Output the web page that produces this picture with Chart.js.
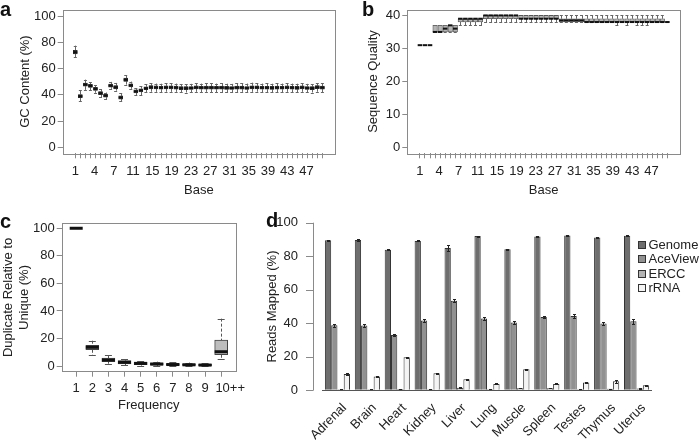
<!DOCTYPE html>
<html lang="en">
<head>
<meta charset="UTF-8">
<title>Library QC summary</title>
<script src="https://cdn.jsdelivr.net/npm/chart.js"></script>
<style>
  body { margin: 0; background: #fff; }
  .fig { position: relative; width: 700px; height: 440px; overflow: hidden; }
  canvas { position: absolute; }
  #chartA { left: 0; top: 0; }
  #chartB { left: 350px; top: 0; }
  #chartC { left: 0; top: 210px; }
  #chartD { left: 250px; top: 210px; }
  .tag { position: absolute; font: bold 20px 'Liberation Sans', Arial, sans-serif; line-height: 20px; color: #111; }
</style>
</head>
<body>
<div class="fig">
  <canvas id="chartA" width="345" height="210"></canvas>
  <canvas id="chartB" width="350" height="210"></canvas>
  <canvas id="chartC" width="250" height="230"></canvas>
  <canvas id="chartD" width="450" height="230"></canvas>
  <div class="tag" style="left:0;top:-1px">a</div>
  <div class="tag" style="left:362px;top:-1px">b</div>
  <div class="tag" style="left:0;top:211px">c</div>
  <div class="tag" style="left:266px;top:210px">d</div>
</div>
<script>
// ---- data ----
const bases = [1,2,3,4,5,6,7,8,9,10,11,12,13,14,15,16,17,18,19,20,21,22,23,24,25,
               26,27,28,29,30,31,32,33,34,35,36,37,38,39,40,41,42,43,44,45,46,47,48,49,50];
const baseTickLabels = ['1','4','7','11','15','19','23','27','31','35','39','43','47'];

// a: GC content per base
const gcMin = [68.6,35.0,43.8,43.6,41.6,38.4,36.9,44.6,43.2,35.2,47.8,44.6,39.9,39.8,41.9,42.4,42.3,42.2,42.4,42.3,42.3,41.9,41.8,42.0,42.3,
               42.1,42.3,42.2,42.1,42.2,42.0,41.9,42.2,42.3,41.9,42.3,42.4,42.1,42.2,42.0,42.2,42.1,42.3,42.1,42.0,42.3,41.9,41.8,42.4,42.2];
const gcQ1  = [71.2,37.8,46.6,45.6,43.3,40.1,38.2,45.8,44.6,36.8,50.3,46.1,41.4,42.2,43.9,44.6,44.5,44.3,44.6,44.5,44.4,44.0,44.0,44.1,44.5,
               44.3,44.4,44.4,44.3,44.4,44.2,44.1,44.4,44.4,44.1,44.6,44.6,44.3,44.3,44.2,44.4,44.3,44.5,44.3,44.2,44.5,44.1,44.0,44.7,44.4];
const gcMed = [72.5,39.0,47.8,46.8,44.5,41.3,39.4,47.0,45.8,38.0,51.5,47.3,42.6,43.4,45.0,45.8,45.6,45.4,45.7,45.7,45.5,45.1,45.1,45.2,45.6,
               45.4,45.5,45.5,45.4,45.5,45.3,45.2,45.5,45.5,45.2,45.7,45.7,45.4,45.4,45.3,45.5,45.4,45.6,45.4,45.3,45.6,45.2,45.1,45.8,45.5];
const gcQ3  = [73.9,40.3,49.0,48.0,45.7,42.5,40.6,48.2,47.0,39.2,52.7,48.5,43.8,44.7,46.2,47.0,46.8,46.6,46.9,46.9,46.7,46.3,46.3,46.4,46.8,
               46.6,46.7,46.7,46.6,46.7,46.5,46.4,46.7,46.7,46.4,46.9,46.9,46.6,46.6,46.5,46.7,46.6,46.8,46.6,46.5,46.8,46.4,46.3,47.0,46.7];
const gcMax = [77.5,43.5,51.6,49.6,47.2,44.3,41.8,49.9,49.1,41.3,55.0,50.1,45.2,46.7,48.2,48.8,48.6,48.5,48.9,48.8,48.6,48.3,48.2,48.4,48.9,
               48.6,48.7,48.8,48.6,48.7,48.5,48.4,48.7,48.8,48.6,49.3,48.9,48.6,48.7,48.5,48.7,48.6,48.9,48.6,48.5,48.8,48.4,48.3,49.0,48.7];
const gcTicks = [0, 20, 40, 60, 80, 100];

// b: sequence quality per base
const qMin = [31,31,31,35,35,35,35,35,37,37,37,37,37,38,38,38,38,38,38,38,38,38,38,38,38,
              38,38,38,38,38,38,38,38,38,38,38,38,38,38,37,38,37,38,37,37,37,38,38,38,38];
const qQ1  = [31,31,31,35,35,35,35,35,38,38,38,38,38,39,39,39,39,39,39,39,39,39,39,39,39,
              39,39,39,38,38,38,38,38,38,38,38,38,38,38,38,38,38,38,38,38,38,38,38,38,38];
const qMed = [31,31,31,35,35,36,37,36,39,39,39,39,39,40,40,40,40,40,40,40,39,39,39,39,39,
              39,39,39,38.5,38.5,38.5,38.5,38.5,38,38,38,38,38,38,38,38,38,38,38,38,38,38,38,38,38];
const qQ3  = [31,31,31,37,37,37,37,37,39,39,39,39,39,40,40,40,40,40,40,40,40,40,40,40,40,
              40,40,40,39,39,39,39,39,39,39,39,39,39,39,39,39,39,39,39,39,39,39,39,39,38];
const qMax = [31,31,31,37,37,37,37,37,39,39,39,39,39,40,40,40,40,40,40,40,40,40,40,40,40,
              40,40,40,40,40,40,40,40,40,40,40,40,40,40,40,40,40,40,40,40,40,40,40,40,38];
const qTicks = [0, 10, 20, 30, 40];

// c: duplicate frequency
const freqLabels = ['1','2','3','4','5','6','7','8','9','10++'];
const dupMin = [100, 8.0, 1.7, 0.5, 0.3, 0.2, 0.1, 0.1, 0.1, 4.9];
const dupQ1  = [100, 11.8, 3.1, 1.5, 1.0, 0.8, 0.5, 0.4, 0.3, 8.2];
const dupMed = [100, 13.6, 4.4, 2.7, 1.9, 1.4, 1.1, 0.9, 0.7, 10.4];
const dupQ3  = [100, 15.0, 5.8, 3.9, 2.8, 2.3, 1.8, 1.6, 1.4, 18.9];
const dupMax = [100, 18.4, 7.8, 5.0, 3.5, 3.2, 2.8, 2.5, 2.2, 34.4];
const dupTicks = [0, 20, 40, 60, 80, 100];

// d: reads mapped per tissue
const tissues = ['Adrenal','Brain','Heart','Kidney','Liver','Lung','Muscle','Spleen','Testes','Thymus','Uterus'];
const genome  = [89.5, 89.7, 83.9, 89.1, 84.9, 92.0, 84.1, 91.7, 92.4, 91.1, 92.2];
const aceView = [38.8, 38.6, 33.0, 41.6, 53.5, 42.9, 40.4, 43.7, 44.3, 39.8, 41.2];
const ercc    = [0.6, 0.7, 0.8, 0.6, 1.5, 0.7, 1.2, 1.2, 0.6, 0.9, 1.0];
const rrna    = [9.7, 8.3, 19.7, 10.1, 6.6, 3.8, 12.5, 3.8, 4.6, 5.4, 3.0];
const genomeErr  = [0.3, 0.4, 0.3, 0.3, 1.5, 0.3, 0.3, 0.3, 0.3, 0.4, 0.3];
const aceViewErr = [0.8, 0.8, 0.6, 1.0, 0.9, 0.7, 0.7, 0.8, 1.4, 0.7, 1.6];
const erccErr    = [0.1, 0.1, 0.1, 0.1, 0.2, 0.1, 0.1, 0.1, 0.1, 0.1, 0.1];
const rrnaErr    = [0.4, 0.3, 0.4, 0.4, 0.3, 0.3, 0.4, 0.3, 0.5, 0.8, 0.3];

// ---- shared styling ----
const FONT = "'Liberation Sans', Arial, Helvetica, sans-serif";
Chart.defaults.font.family = FONT;
Chart.defaults.font.size = 13;
Chart.defaults.color = '#222';
const AXIS = '#8a8a8a';

// whiskers, caps, medians and the frame around a box plot
function boxPlugin(st, style) {
  return {
    id: 'box_' + style.name,
    beforeDatasetsDraw(chart) {
      const {ctx} = chart, y = chart.scales.y;
      const bars = chart.getDatasetMeta(0).data;
      ctx.save();
      ctx.strokeStyle = style.whisker;
      ctx.lineWidth = 1;
      ctx.setLineDash(style.dash || []);
      bars.forEach((bar, i) => {
        const x = Math.round(bar.x) + 0.5;
        ctx.beginPath();
        ctx.moveTo(x, y.getPixelForValue(st.max[i]));
        ctx.lineTo(x, y.getPixelForValue(st.q3[i]));
        ctx.moveTo(x, y.getPixelForValue(st.q1[i]));
        ctx.lineTo(x, y.getPixelForValue(st.min[i]));
        ctx.stroke();
      });
      ctx.setLineDash([]);
      bars.forEach((bar, i) => {
        [st.min[i], st.max[i]].forEach(v => {
          const py = Math.round(y.getPixelForValue(v)) + 0.5;
          ctx.beginPath();
          ctx.moveTo(bar.x - style.cap / 2, py);
          ctx.lineTo(bar.x + style.cap / 2, py);
          ctx.stroke();
        });
      });
      ctx.restore();
    },
    afterDatasetsDraw(chart) {
      const {ctx} = chart, y = chart.scales.y;
      ctx.save();
      ctx.strokeStyle = '#111';
      ctx.lineWidth = style.medWidth;
      chart.getDatasetMeta(0).data.forEach((bar, i) => {
        const py = y.getPixelForValue(st.med[i]);
        ctx.beginPath();
        ctx.moveTo(bar.x - bar.width / 2, py);
        ctx.lineTo(bar.x + bar.width / 2, py);
        ctx.stroke();
      });
      ctx.restore();
    },
    afterDraw(chart) {
      const {ctx, chartArea: a} = chart;
      ctx.save();
      ctx.strokeStyle = AXIS;
      ctx.lineWidth = 1;
      ctx.strokeRect(Math.round(a.left) + 0.5, Math.round(a.top) + 0.5,
                     Math.round(a.right - a.left), Math.round(a.bottom - a.top));
      ctx.restore();
    }
  };
}

function fixedTicks(list) {
  return scale => { scale.ticks = list.map(v => ({value: v})); };
}

function baseChart(id, st, yTicks, yMin, yMax, yTitle, titlePad, yWidth, rightPad, boxStyle) {
  return new Chart(document.getElementById(id), {
    type: 'bar',
    data: {
      datasets: [{
        data: bases.map((b, i) => ({x: b, y: [st.q1[i], st.q3[i]]})),
        backgroundColor: boxStyle.fill,
        borderColor: boxStyle.border,
        borderWidth: boxStyle.borderWidth,
        borderSkipped: false,
        barThickness: boxStyle.width
      }]
    },
    options: {
      responsive: false,
      animation: false,
      layout: {padding: {left: 0, top: 4, right: rightPad, bottom: 0}},
      plugins: {legend: {display: false}, tooltip: {enabled: false}},
      scales: {
        x: {
          type: 'linear', min: -1.5, max: 52.5, offset: false,
          afterBuildTicks: fixedTicks(bases),
          ticks: {display: false},
          grid: {drawOnChartArea: false, offset: false, tickLength: 5, color: AXIS},
          border: {display: false},
          afterFit: s => { s.height = 6; }
        },
        x2: {
          type: 'linear', position: 'bottom', min: -1.5, max: 52.5, offset: false,
          afterBuildTicks: s => { s.ticks = baseTickLabels.map((t, i) => ({value: 1 + i * 3.82})); },
          ticks: {callback: (v, i) => baseTickLabels[i], autoSkip: false, maxRotation: 0, padding: 4},
          grid: {display: false, offset: false, drawTicks: false},
          border: {display: false},
          title: {display: true, text: 'Base', padding: {top: 0, bottom: 12}},
          afterFit: s => { s.height = 50.7; }
        },
        y: {
          min: yMin, max: yMax,
          afterBuildTicks: fixedTicks(yTicks),
          ticks: {padding: 2},
          grid: {drawOnChartArea: false, tickLength: 5, color: AXIS},
          border: {display: false},
          title: {display: true, text: yTitle, padding: {top: titlePad, bottom: 0}},
          afterFit: s => { s.width = yWidth; }
        }
      }
    },
    plugins: [boxPlugin(st, boxStyle)]
  });
}

// panel a
baseChart('chartA', {min: gcMin, q1: gcQ1, med: gcMed, q3: gcQ3, max: gcMax},
  gcTicks, -4.5, 104.8, 'GC Content (%)', 18, 62.7, 10,
  {name: 'a', fill: '#3c3c3c', border: '#222', borderWidth: 0.5, width: 4, whisker: '#666', cap: 3, medWidth: 2});

// panel b
baseChart('chartB', {min: qMin, q1: qQ1, med: qMed, q3: qQ3, max: qMax},
  qTicks, -1.7, 41.7, 'Sequence Quality', 15.5, 57.3, 20,
  {name: 'b', fill: '#b5b5b5', border: '#555', borderWidth: 0.8, width: 4.5, whisker: '#666', cap: 3, medWidth: 2});

// panel c
const dupStats = {min: dupMin, q1: dupQ1, med: dupMed, q3: dupQ3, max: dupMax};
new Chart(document.getElementById('chartC'), {
  type: 'bar',
  data: {
    datasets: [{
      data: freqLabels.map((f, i) => ({x: i + 1, y: [dupQ1[i], dupQ3[i]]})),
      backgroundColor: '#bdbdbd',
      borderColor: '#444',
      borderWidth: 1,
      borderSkipped: false,
      barThickness: 13
    }]
  },
  options: {
    responsive: false,
    animation: false,
    layout: {padding: {left: 0, top: 13.3, right: 11.7, bottom: 0}},
    plugins: {legend: {display: false}, tooltip: {enabled: false}},
    scales: {
      x: {
        type: 'linear', min: 0.1, max: 10.9, offset: false,
        afterBuildTicks: s => { s.ticks = freqLabels.map((f, i) => ({value: i + 1})); },
        // the last label sits a little right of its tick, as in the source figure
        ticks: {callback: (v, i) => (i === freqLabels.length - 1 ? '     ' : '') + freqLabels[i],
                autoSkip: false, maxRotation: 0, padding: 4},
        grid: {drawOnChartArea: false, offset: false, tickLength: 5, color: AXIS},
        border: {display: false},
        title: {display: true, text: 'Frequency', padding: {top: 0, bottom: 27}},
        afterFit: s => { s.height = 68.3; }
      },
      y: {
        min: -4.1, max: 103.6,
        afterBuildTicks: fixedTicks(dupTicks),
        ticks: {padding: 2},
        grid: {drawOnChartArea: false, tickLength: 5, color: AXIS},
        border: {display: false},
        title: {display: true, text: ['Duplicate Relative to', 'Unique (%)'],
                font: {lineHeight: 1.25}, padding: {top: 0, bottom: 0}},
        afterFit: s => { s.width = 61.7; }
      }
    }
  },
  plugins: [boxPlugin(dupStats, {name: 'c', whisker: '#555', dash: [3, 2], cap: 7, medWidth: 3})]
});

// panel d
const mappedErrors = [genomeErr, aceViewErr, erccErr, rrnaErr];
const dExtras = {
  id: 'dExtras',
  afterDatasetsDraw(chart) {
    const {ctx, scales: {y}} = chart;
    ctx.save();
    ctx.strokeStyle = '#222';
    ctx.lineWidth = 1;
    chart.data.datasets.forEach((ds, di) => {
      chart.getDatasetMeta(di).data.forEach((bar, j) => {
        const v = ds.data[j], e = mappedErrors[di][j];
        const x = Math.round(bar.x) + 0.5;
        const top = Math.round(y.getPixelForValue(v + e)) + 0.5;
        const bot = Math.round(y.getPixelForValue(v - e)) + 0.5;
        ctx.beginPath();
        ctx.moveTo(x, top); ctx.lineTo(x, bot);
        ctx.moveTo(x - 1.5, top); ctx.lineTo(x + 1.5, top);
        ctx.moveTo(x - 1.5, bot); ctx.lineTo(x + 1.5, bot);
        ctx.stroke();
      });
    });
    ctx.restore();
  },
  afterDraw(chart) {
    const {ctx, chartArea: a, scales: {y}} = chart;
    ctx.save();
    // y axis line sits a little to the left of the bars
    const ax = Math.round(a.left - 10) + 0.5;
    ctx.strokeStyle = AXIS;
    ctx.lineWidth = 1;
    ctx.beginPath();
    ctx.moveTo(ax, y.getPixelForValue(0));
    ctx.lineTo(ax, y.getPixelForValue(100));
    y.ticks.forEach(t => {
      const py = Math.round(y.getPixelForValue(t.value)) + 0.5;
      ctx.moveTo(ax - 7.5, py);
      ctx.lineTo(ax, py);
    });
    ctx.stroke();
    // legend
    const lx = a.right - 13.5, ly = a.top + 22.3;
    ctx.font = '13px ' + FONT;
    ctx.textBaseline = 'middle';
    chart.data.datasets.forEach((ds, i) => {
      const cy = Math.round(ly + i * 14.4);
      ctx.fillStyle = ds.backgroundColor;
      ctx.fillRect(lx, cy - 4, 8, 8);
      ctx.strokeStyle = '#333';
      ctx.strokeRect(lx + 0.5, cy - 3.5, 7, 7);
      ctx.fillStyle = '#222';
      ctx.fillText(ds.label, lx + 10.5, cy);
    });
    ctx.restore();
  }
};

const barStyle = {borderColor: '#333', borderWidth: 1, categoryPercentage: 0.84, barPercentage: 1};
new Chart(document.getElementById('chartD'), {
  type: 'bar',
  data: {
    labels: tissues,
    datasets: [
      {label: 'Genome', data: genome, backgroundColor: '#6e6e6e', ...barStyle},
      {label: 'AceView', data: aceView, backgroundColor: '#919191', ...barStyle},
      {label: 'ERCC', data: ercc, backgroundColor: '#b4b4b4', ...barStyle},
      {label: 'rRNA', data: rrna, backgroundColor: '#f4f4f4', ...barStyle}
    ]
  },
  options: {
    responsive: false,
    animation: false,
    layout: {padding: {left: 0, top: 12.7, right: 48.5, bottom: 0}},
    plugins: {legend: {display: false}, tooltip: {enabled: false}},
    scales: {
      x: {
        grid: {drawOnChartArea: false, drawTicks: false, color: 'rgba(0,0,0,0)'},
        border: {display: true, color: '#555'},
        ticks: {minRotation: 45, maxRotation: 45, autoSkip: false, padding: 10, labelOffset: 7},
        afterFit: s => { s.height = 49.7; }
      },
      y: {
        min: 0, max: 100,
        ticks: {stepSize: 20, padding: 2.5},
        grid: {drawOnChartArea: false, tickLength: 22, color: 'rgba(0,0,0,0)'},
        border: {display: false},
        title: {display: true, text: 'Reads Mapped (%)', padding: {top: 15, bottom: 0}},
        afterFit: s => { s.width = 72.5; }
      }
    }
  },
  plugins: [dExtras]
});
</script>
</body>
</html>
